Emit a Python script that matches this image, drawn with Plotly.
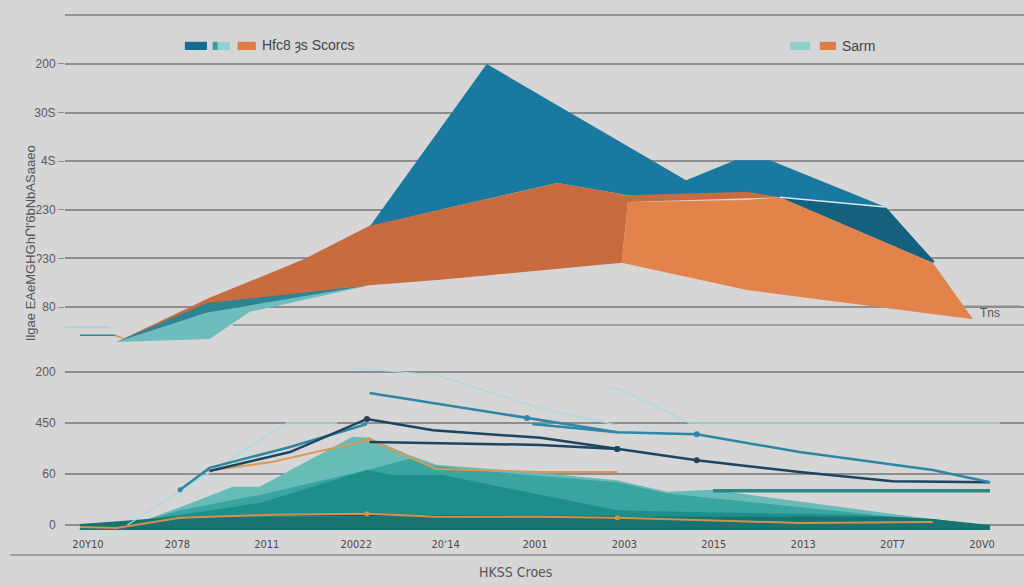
import plotly.graph_objects as go

# ---------------- data ----------------
x_ticks = list(range(11))
x_labels = ["20Y10", "2078", "2011", "20022", "20ʼ14", "2001", "2003", "2015", "2013", "20T7", "20V0"]

top_ticks = [0, 1, 2, 3, 4, 5]
top_labels = ["80", "ʔ30", "230", "4S", "30S", "200"]
bot_ticks = [0, 1, 2, 3]
bot_labels = ["0", "60", "450", "200"]

# upper panel areas (closed outlines)
blue_x = [3.15, 4.46, 6.69, 7.24, 7.63, 8.92, 9.47, 9.45, 7.74, 6.04, 5.25, 3.94, 3.15]
blue_y = [1.65, 5.00, 2.61, 3.02, 3.02, 2.06, 0.93, 0.91, 2.26, 2.30, 2.55, 2.00, 1.65]

blue_dk_x = [7.74, 8.92, 9.47, 9.45]
blue_dk_y = [2.26, 2.06, 0.93, 0.91]

band_x = [0.32, 1.33, 3.15, 1.33]
band_y = [-0.72, 0.14, 0.45, -0.12]

lteal_x = [0.32, 1.33, 3.15, 1.81, 1.36]
lteal_y = [-0.72, -0.12, 0.45, -0.10, -0.66]

orange_dk_x = [0.32, 1.36, 2.40, 3.15, 3.94, 5.25, 6.04, 7.37, 7.74, 6.04, 5.97, 5.06, 3.94, 3.15, 1.33, 0.32]
orange_dk_y = [-0.72, 0.19, 0.97, 1.67, 2.00, 2.55, 2.30, 2.37, 2.26, 2.16, 0.91, 0.76, 0.56, 0.45, 0.08, -0.72]

orange_lt_x = [6.04, 7.37, 7.74, 9.45, 9.90, 7.37, 5.97]
orange_lt_y = [2.16, 2.20, 2.26, 0.91, -0.25, 0.35, 0.91]

sheen_x = [7.74, 8.92]
sheen_y = [2.26, 2.06]

stub1_x, stub1_y = [-0.31, 0.25], [-0.41, -0.41]
stub2_x, stub2_y = [-0.09, 0.30], [-0.58, -0.58]
stub3_x, stub3_y = [0.30, 0.39], [-0.58, -0.64]
rule_x, rule_y = [1.62, 10.47], [-0.37, -0.37]
tns_x, tns_y = [9.75, 10.43], [0.02, 0.02]

# lower panel areas (top edges, filled down to baseline)
BASE = -0.1
l1_x = [-0.09, 0.55, 1.03, 1.62, 1.92, 2.96, 3.15, 3.60, 3.90, 5.06, 5.92, 6.48, 6.99, 9.45, 10.09]
l1_y = [-0.06, 0.04, 0.35, 0.75, 0.75, 1.73, 1.71, 1.37, 1.18, 1.02, 0.88, 0.65, 0.69, 0.10, -0.04]
l2_x = [-0.09, 0.39, 1.03, 1.92, 3.12, 3.60, 3.90, 5.06, 5.92, 6.48, 8.52, 9.45, 10.09]
l2_y = [-0.06, -0.04, 0.29, 0.59, 1.08, 1.30, 1.15, 0.96, 0.84, 0.62, 0.25, 0.08, -0.04]
l3_x = [-0.09, 1.03, 1.92, 3.12, 3.41, 3.97, 4.61, 5.92, 6.85, 8.52, 9.45, 10.09]
l3_y = [-0.06, 0.20, 0.43, 1.08, 0.98, 0.98, 0.75, 0.29, 0.25, 0.20, 0.12, -0.04]
l4_x = [-0.09, 1.03, 9.00, 9.45, 10.09]
l4_y = [0.02, 0.16, 0.16, 0.12, 0.00]

# lower panel lines
navy_a_x = [1.36, 2.26, 3.12, 3.86, 5.06, 5.92, 6.81, 7.96, 9.00, 10.09]
navy_a_y = [1.06, 1.43, 2.08, 1.86, 1.71, 1.49, 1.27, 1.04, 0.86, 0.84]
navy_b_x = [3.15, 5.06, 5.92]
navy_b_y = [1.63, 1.57, 1.49]
teal_c_x = [1.03, 1.36, 2.26, 3.12]
teal_c_y = [0.69, 1.12, 1.53, 1.98]
blue_d_x = [3.15, 4.91, 5.92, 6.81, 7.96, 9.45, 10.09]
blue_d_y = [2.59, 2.10, 1.82, 1.78, 1.43, 1.08, 0.84]
blue_d2_x = [4.97, 5.92]
blue_d2_y = [1.98, 1.82]
faint_e1_x = [0.44, 2.23, 2.79]
faint_e1_y = [0.00, 2.00, 2.00]
faint_e2_x = [2.96, 3.90, 5.06, 5.92]
faint_e2_y = [3.08, 2.94, 2.29, 1.96]
faint_e3_x = [5.84, 5.97, 6.73, 10.20]
faint_e3_y = [2.69, 2.65, 2.00, 2.00]
orange_f_x = [-0.09, 0.32, 1.03, 2.07, 3.12, 3.90, 5.06, 5.92, 6.81, 7.96, 9.45]
orange_f_y = [-0.04, -0.06, 0.14, 0.20, 0.22, 0.16, 0.16, 0.14, 0.10, 0.04, 0.06]
orange_g_x = [1.33, 2.07, 3.15, 3.90, 5.06, 5.92]
orange_g_y = [1.06, 1.24, 1.67, 1.10, 1.04, 1.04]
teal_h_x = [6.99, 10.09]
teal_h_y = [0.67, 0.67]
navy_low_x = [2.07, 5.92]
navy_low_y = [0.20, 0.16]

# ---------------- figure ----------------
BG = "#d6d6d6"
GRID = "#8e8e8e"
fig = go.Figure()


def poly(x, y, color, xa="x2", ya="y"):
    fig.add_trace(go.Scatter(x=x, y=y, fill="toself", fillcolor=color, mode="lines",
                             line=dict(width=0, color=color), xaxis=xa, yaxis=ya,
                             hoverinfo="skip"))


def area(x, y, color):
    xs = list(x) + [x[-1], x[0]]
    ys = list(y) + [BASE, BASE]
    poly(xs, ys, color, xa="x", ya="y2")


def line(x, y, color, width, xa="x", ya="y2", markers=None, msize=6):
    fig.add_trace(go.Scatter(x=x, y=y, mode="lines", line=dict(color=color, width=width),
                             xaxis=xa, yaxis=ya, hoverinfo="skip"))
    if markers:
        fig.add_trace(go.Scatter(x=[x[i] for i in markers], y=[y[i] for i in markers],
                                 mode="markers", marker=dict(color=color, size=msize),
                                 xaxis=xa, yaxis=ya, hoverinfo="skip"))


# upper panel
line(rule_x, rule_y, "#8e8e8e", 1.5, xa="x2", ya="y")
line(tns_x, tns_y, "#8e8e8e", 1.2, xa="x2", ya="y")
line(stub1_x, stub1_y, "#9fd3d4", 1.5, xa="x2", ya="y")
line(stub2_x, stub2_y, "#2e8a93", 1.5, xa="x2", ya="y")
line(stub3_x, stub3_y, "#d98a50", 1.5, xa="x2", ya="y")
poly(blue_x, blue_y, "#1979a1")
poly(blue_dk_x, blue_dk_y, "#14607f")
poly(lteal_x, lteal_y, "#6dbdbd")
poly(band_x, band_y, "#2f8491")
poly(orange_dk_x, orange_dk_y, "#c86c40")
poly(orange_lt_x, orange_lt_y, "#e2834c")
line(sheen_x, sheen_y, "#dbe8ee", 1.5, xa="x2", ya="y")

# lower panel
area(l1_x, l1_y, "#67bcb8")
area(l2_x, l2_y, "#3aa5a0")
area(l3_x, l3_y, "#1c8f8a")
area(l4_x, l4_y, "#167370")
line(faint_e1_x, faint_e1_y, "#a9dadc", 1.3)
line(faint_e2_x, faint_e2_y, "#a9dadc", 1.3)
line(faint_e3_x, faint_e3_y, "#a9dadc", 1.3)
line(navy_low_x, navy_low_y, "#1d4560", 1.5)
line(orange_f_x, orange_f_y, "#d98f4c", 2, markers=[4, 7], msize=5)
line(orange_g_x, orange_g_y, "#d99a58", 2, markers=[2], msize=5)
line(teal_h_x, teal_h_y, "#2b8884", 3.5)
line(teal_c_x, teal_c_y, "#2f87a3", 2.5, markers=[0], msize=5)
line(navy_b_x, navy_b_y, "#1d4560", 2.5, markers=[2])
line(navy_a_x, navy_a_y, "#1d4560", 2.5, markers=[2, 5, 6])
line(blue_d2_x, blue_d2_y, "#2f87a8", 2.5)
line(blue_d_x, blue_d_y, "#2f87a8", 2.5, markers=[1, 3])

SANS = "Liberation Sans, Arial, sans-serif"
NARROW = "DejaVu Sans Condensed, Liberation Sans, sans-serif"
tickfont = dict(family=SANS, size=12, color="#5a5a5a")
fig.update_layout(
    width=1024, height=585,
    margin=dict(l=65, r=0, t=15, b=55),
    paper_bgcolor=BG, plot_bgcolor=BG,
    showlegend=False, hovermode=False,
    xaxis=dict(domain=[0, 1], anchor="y2", range=[-0.257, 10.47], tickmode="array",
               tickvals=x_ticks, ticktext=x_labels, showgrid=False, zeroline=False,
               showline=False, ticks="", ticklabelstandoff=6,
               tickfont=dict(family=NARROW, size=11, color="#4a4a4a")),
    xaxis2=dict(domain=[0, 1], anchor="y", matches="x", showticklabels=False,
                showgrid=False, zeroline=False, showline=False),
    yaxis=dict(domain=[0.3495, 1], anchor="x2", range=[-0.885, 6.008], tickmode="array",
               tickvals=top_ticks, ticktext=top_labels, showgrid=True, gridcolor=GRID,
               gridwidth=1.5, zeroline=False, ticks="outside", ticklen=6, tickcolor=GRID,
               tickfont=tickfont),
    yaxis2=dict(domain=[0, 0.33], anchor="x", range=[-0.098, 3.235], tickmode="array",
                tickvals=bot_ticks, ticktext=bot_labels, showgrid=True, gridcolor=GRID,
                gridwidth=1.5, zeroline=False, ticks="outside", ticklen=6, tickcolor=BG,
                tickfont=tickfont),
)

shapes = [
    dict(type="line", xref="paper", yref="paper", x0=0, x1=1, y0=1, y1=1,
         line=dict(color="#7d7d7d", width=1.5)),
    dict(type="line", xref="paper", yref="paper", x0=-0.057, x1=1, y0=-0.0485, y1=-0.0485,
         line=dict(color="#8a8a8a", width=1.5)),
    # legend swatches
    dict(type="rect", xref="paper", yref="paper", x0=0.125, x1=0.148, y0=0.932, y1=0.948,
         fillcolor="#176d8f", line=dict(width=0)),
    dict(type="rect", xref="paper", yref="paper", x0=0.154, x1=0.172, y0=0.932, y1=0.948,
         fillcolor="#8fcfcc", line=dict(width=0)),
    dict(type="rect", xref="paper", yref="paper", x0=0.154, x1=0.159, y0=0.932, y1=0.948,
         fillcolor="#3a9b9b", line=dict(width=0)),
    dict(type="rect", xref="paper", yref="paper", x0=0.180, x1=0.199, y0=0.932, y1=0.948,
         fillcolor="#e07c45", line=dict(width=0)),
    dict(type="rect", xref="paper", yref="paper", x0=0.756, x1=0.777, y0=0.932, y1=0.948,
         fillcolor="#8fcfcc", line=dict(width=0)),
    dict(type="rect", xref="paper", yref="paper", x0=0.787, x1=0.804, y0=0.932, y1=0.948,
         fillcolor="#e07c45", line=dict(width=0)),
]
fig.update_layout(shapes=shapes)

ann_font = dict(family=SANS, size=14, color="#444444")
fig.add_annotation(text="Hfc8 ȝs Scorcs", xref="paper", yref="paper", x=0.203, y=0.940,
                   xanchor="left", yanchor="middle", showarrow=False, font=ann_font)
fig.add_annotation(text="Sarm", xref="paper", yref="paper", x=0.808, y=0.940,
                   xanchor="left", yanchor="middle", showarrow=False, font=ann_font)
fig.add_annotation(text="Tns", xref="x2", yref="y", x=10.09, y=-0.12,
                   xanchor="center", yanchor="middle", showarrow=False,
                   font=dict(family=SANS, size=12, color="#555555"))
fig.add_annotation(text="HKSS Croes", xref="paper", yref="paper", x=0.47, y=-0.082,
                   xanchor="center", yanchor="middle", showarrow=False,
                   font=dict(family=NARROW, size=14, color="#555555"))
fig.add_annotation(text="Ilgae EAeMGHGhՐl'6bNbASaaeo", xref="paper", yref="paper",
                   x=-0.0365, y=0.557, textangle=-90, xanchor="center", yanchor="middle",
                   showarrow=False, font=dict(family=SANS, size=13, color="#555555"))

fig.write_html(
    "out.html",
    config={"displayModeBar": False},
    post_script="document.body.style.margin='0';document.body.style.overflow='hidden';"
                "document.documentElement.style.background='#d6d6d6';",
)
